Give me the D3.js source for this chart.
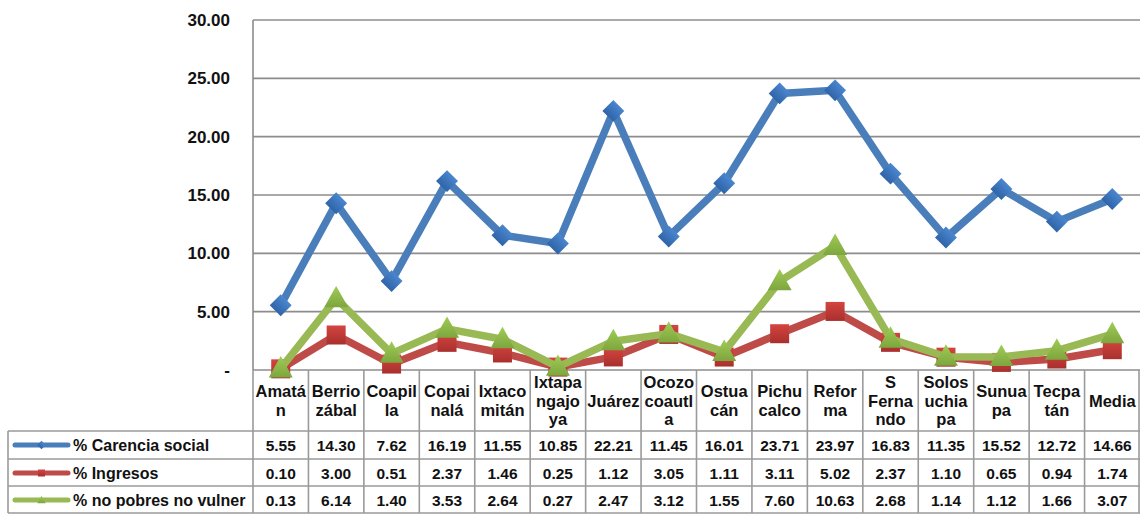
<!DOCTYPE html>
<html><head><meta charset="utf-8">
<script src="https://cdn.jsdelivr.net/npm/d3@7"></script>
<style>body{margin:0;background:#fff}svg{display:block;font-family:"Liberation Sans",Arial,sans-serif;font-weight:bold}</style>
</head><body><svg id="c" width="1140" height="514"></svg>
<script>
const categories = ["Amatán","Berriozábal","Coapilla","Copainalá","Ixtacomitán","Ixtapangajoya","Juárez","Ocozocoautla","Ostuacán","Pichucalco","Reforma","S Fernando","Solosuchiapa","Sunuapa","Tecpatán","Media"];
const headerLines = [["Amatá","n"],["Berrio","zábal"],["Coapil","la"],["Copai","nalá"],["Ixtaco","mitán"],["Ixtapa","ngajo","ya"],["Juárez"],["Ocozo","coautl","a"],["Ostua","cán"],["Pichu","calco"],["Refor","ma"],["S","Ferna","ndo"],["Solos","uchia","pa"],["Sunua","pa"],["Tecpa","tán"],["Media"]];
const carencia = [5.55,14.30,7.62,16.19,11.55,10.85,22.21,11.45,16.01,23.71,23.97,16.83,11.35,15.52,12.72,14.66];
const ingresos = [0.10,3.00,0.51,2.37,1.46,0.25,1.12,3.05,1.11,3.11,5.02,2.37,1.10,0.65,0.94,1.74];
const noPobres = [0.13,6.14,1.40,3.53,2.64,0.27,2.47,3.12,1.55,7.60,10.63,2.68,1.14,1.12,1.66,3.07];
const seriesNames = ["% Carencia social","% Ingresos","% no pobres no vulner"];
const yTicks = [0,5,10,15,20,25,30];

const svg = d3.select("#c");
const L = 253, R = 1140, T = 20, B = 370;
const x = d3.scaleBand().domain(categories).range([L, R]);
const y = d3.scaleLinear().domain([0,30]).range([B, T]);
const grid = "#8c8c8c";

const defs = svg.append("defs");
const grads = [["gb","#4a86cf","#2f64a8"],["gr","#d4443f","#a8302d"],["gg","#9fcc55","#7da63e"]];
grads.forEach(([id,c1,c2])=>{
  const g = defs.append("linearGradient").attr("id",id).attr("x1",0).attr("y1",0).attr("x2",0).attr("y2",1);
  g.append("stop").attr("offset","0%").attr("stop-color",c1);
  g.append("stop").attr("offset","100%").attr("stop-color",c2);
});

// gridlines
svg.append("g").selectAll("line").data(yTicks).join("line")
  .attr("x1", L).attr("x2", R).attr("y1", d=>y(d)).attr("y2", d=>y(d))
  .attr("stroke", grid).attr("stroke-width", 1.6);
svg.append("line").attr("x1",L).attr("x2",L).attr("y1",T).attr("y2",B).attr("stroke",grid).attr("stroke-width",1.6);
svg.append("g").selectAll("text").data(yTicks).join("text")
  .attr("x", 230).attr("y", d=>y(d)+6).attr("text-anchor","end")
  .attr("font-size", 17).attr("fill","#111")
  .text(d => d===0 ? "-" : d3.format(".2f")(d));

// table
const tbl = svg.append("g").attr("stroke", "#9a9a9a").attr("stroke-width", 1.6);
categories.forEach((c)=>{
  tbl.append("line").attr("x1", x(c)).attr("x2", x(c)).attr("y1", B).attr("y2", 513);
});
tbl.append("line").attr("x1", R-1).attr("x2", R-1).attr("y1", B).attr("y2", 513);
tbl.append("line").attr("x1", 8).attr("x2", 8).attr("y1", 431).attr("y2", 513);
[431,459,486,513].forEach(yy=>{
  tbl.append("line").attr("x1", 8).attr("x2", R).attr("y1", yy).attr("y2", yy);
});

// header labels
const hdr = svg.append("g");
headerLines.forEach((lines,i)=>{
  const cx = x(categories[i]) + x.bandwidth()/2;
  const lh = 18.5;
  const y0 = 401 - (lines.length-1)*lh/2 + 5.5;
  lines.forEach((t,j)=>{
    hdr.append("text").attr("x", cx).attr("y", y0 + j*lh).attr("text-anchor","middle")
      .attr("font-size", 16.5).attr("fill","#111").text(t);
  });
});

const colors = ["#4a7ebb","#be4b48","#98b954"];
const fills = ["url(#gb)","url(#gr)","url(#gg)"];
const data = [carencia, ingresos, noPobres];
const rowsY = [445, 473, 500];

data.forEach((arr,s)=>{
  svg.append("g").selectAll("text").data(arr).join("text")
    .attr("x",(d,i)=>x(categories[i])+x.bandwidth()/2).attr("y", rowsY[s]+5.5)
    .attr("text-anchor","middle").attr("font-size",15.5).attr("fill","#111")
    .text(d=>d3.format(".2f")(d));
});

function marker(g, s, cx, cy, size){
  if (s===0) {
    g.append("rect").attr("x",cx-size/2).attr("y",cy-size/2).attr("width",size).attr("height",size)
      .attr("transform",`rotate(45,${cx},${cy})`).attr("fill",fills[0]);
  } else if (s===1) {
    g.append("rect").attr("x",cx-size/2).attr("y",cy-size/2).attr("width",size).attr("height",size).attr("fill",fills[1]);
  } else {
    g.append("path").attr("d",`M${cx},${cy-size*0.62}L${cx+size*0.6},${cy+size*0.45}L${cx-size*0.6},${cy+size*0.45}Z`).attr("fill",fills[2]);
  }
}

seriesNames.forEach((n,s)=>{
  const g = svg.append("g");
  g.append("line").attr("x1",15).attr("x2",68).attr("y1",rowsY[s]).attr("y2",rowsY[s])
    .attr("stroke",colors[s]).attr("stroke-width",5).attr("stroke-linecap","round");
  marker(g, s, 41.5, rowsY[s], s===0?6:7);
  g.append("text").attr("x",73).attr("y",rowsY[s]+5.5).attr("font-size",16).attr("fill","#111").text(n);
});

const line = d3.line().x((d,i)=>x(categories[i])+x.bandwidth()/2).y(d=>y(d));
data.forEach((arr,s)=>{
  svg.append("path").datum(arr).attr("d", line).attr("fill","none")
    .attr("stroke", colors[s]).attr("stroke-width", 7.5).attr("stroke-linejoin","round");
  const g = svg.append("g");
  arr.forEach((d,i)=>marker(g, s, x(categories[i])+x.bandwidth()/2, y(d), s===0?15.5:(s===1?19:20)));
});
</script></body></html>
